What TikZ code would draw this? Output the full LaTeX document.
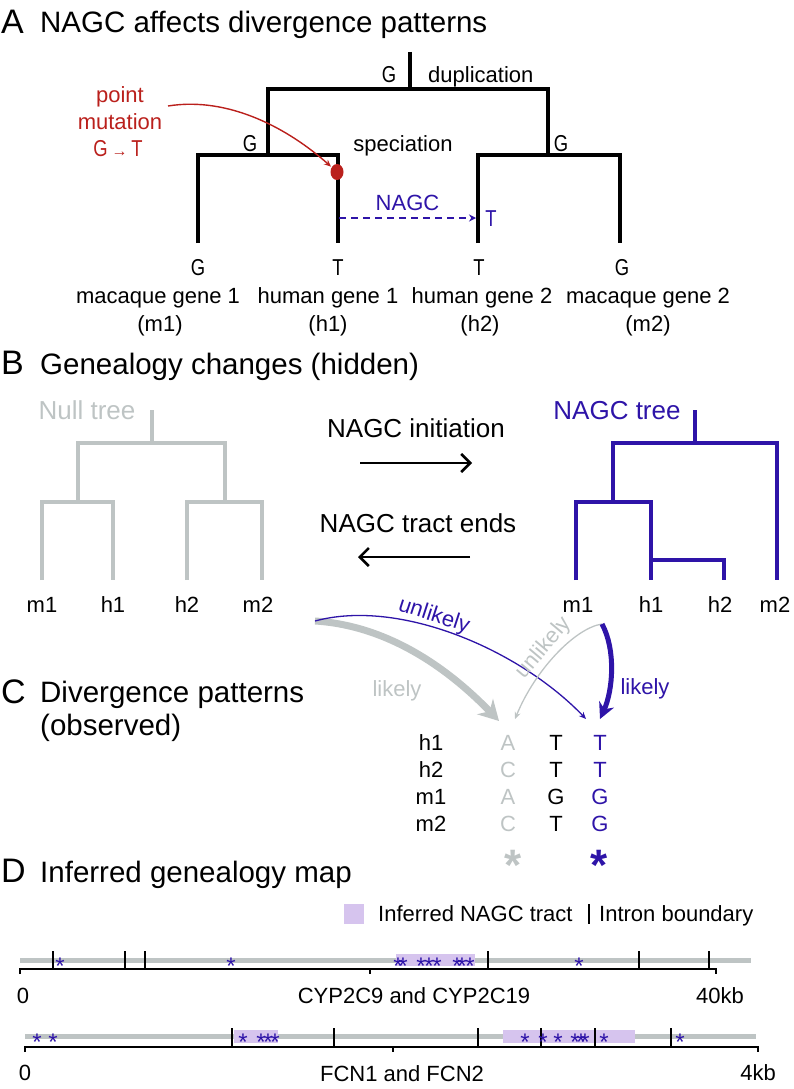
\documentclass[tikz,border=0pt]{standalone}
\usepackage{fontspec}
\setmainfont{Liberation Sans}
\newfontfamily\basefont[FakeStretch=0.8]{Liberation Sans}
\usetikzlibrary{arrows.meta,positioning}
\definecolor{nagcblue}{RGB}{46,20,168}
\definecolor{nullgray}{RGB}{190,196,196}
\definecolor{mutred}{RGB}{186,32,28}
\definecolor{tractlilac}{RGB}{214,196,238}
\tikzset{>={Stealth[length=7pt,width=6pt]},x=1pt,y=-1pt}
\tikzset{
  branch/.style={line width=4pt},
  lbl/.style={font=\fontsize{22}{24}\selectfont,inner sep=0pt},
  bigl/.style={font=\fontsize{26}{28}\selectfont,inner sep=0pt},
  heading/.style={font=\fontsize{29.5}{33}\selectfont,anchor=base west,inner sep=0pt},
  panelletter/.style={font=\fontsize{34}{36}\selectfont,anchor=base west,inner sep=0pt},
  nucl/.style={font=\basefont\fontsize{23}{24}\selectfont,anchor=base,inner sep=0pt},
  snp/.style={text=nagcblue,font=\fontsize{24}{24}\selectfont,anchor=base,inner sep=0pt},
  bigsnp/.style={font=\bfseries\fontsize{44}{44}\selectfont,anchor=base,inner sep=0pt},
  flip/.style={line width=2.5pt,-{Straight Barb[length=9pt,width=18pt]}},
  mutarrow/.style={mutred,line width=1.4pt,->,shorten >=8pt},
  gcarrow/.style={nagcblue,line width=2.2pt,dash pattern=on 7pt off 5pt,-{Stealth[length=7pt,width=7pt]}},
  likelygray/.style={nullgray,line width=7pt,-{Stealth[length=20pt,width=22pt]}},
  likelyblue/.style={nagcblue,line width=5pt,-{Stealth[length=16pt,width=16pt]}},
  unlikelygray/.style={nullgray,line width=1.3pt,->},
  unlikelyblue/.style={nagcblue,line width=1.3pt,->},
  intron/.style={line width=2.2pt},
  scaleline/.style={line width=2.2pt},
  genetrack/.style={nullgray,line width=5pt},
}

\begin{document}
\begin{tikzpicture}
\useasboundingbox (0,0) rectangle (793,1089);

\node[panelletter] (pA) at (1,34) {A};
\node[heading] (tA) at (40,33) {NAGC affects divergence patterns};
\coordinate (dup) at (410,52);
\coordinate (dupj) at (410,89);
\coordinate (spL) at (268,155);
\coordinate (spR) at (548,155);
\coordinate (m1a) at (198,243);
\coordinate (h1a) at (338,243);
\coordinate (h2a) at (478,243);
\coordinate (m2a) at (620,243);
\draw[branch] (dup) -- (dupj);
\draw[branch] (spL) |- (dupj) -| (spR);
\draw[branch] (m1a) |- (spL) -| (h1a);
\draw[branch] (h2a) |- (spR) -| (m2a);
\node[nucl] (gdup) at (389,83) {G};
\node[lbl,anchor=base west] (dupl) at (428,83) {duplication};
\node[nucl] (gspL) at (250,151) {G};
\node[lbl,anchor=base] (spec) at (403,151) {speciation};
\node[nucl] (gspR) at (561,151) {G};
\node[lbl,text=mutred,anchor=base] (pm1) at (120,103) {point};
\node[lbl,text=mutred,anchor=base] (pm2) at (120,130) {mutation};
\node[nucl,text=mutred] (pm3) at (118,156) {G\,{\normalfont\bfseries\fontsize{16}{16}\selectfont →}\,T};
\fill[mutred] (337,172) ellipse [x radius=6.5, y radius=8];
\coordinate (mut) at (337,172);
\coordinate (mutfrom) at (168,106);
\draw[mutarrow] (mutfrom) .. controls (230,96) and (290,130) .. (mut);
\coordinate (gcfrom) at (339,218);
\coordinate (gcto) at (476,218);
\draw[gcarrow] (gcfrom) -- node[lbl,text=nagcblue,above=6pt] (gclab) {NAGC} (gcto);
\node[nucl,text=nagcblue] (gcT) at (491,226) {T};
\node[nucl] (bm1) at (198,275) {G};
\node[nucl] (bh1) at (338,275) {T};
\node[nucl] (bh2) at (479,275) {T};
\node[nucl] (bm2) at (622,275) {G};
\node[lbl,anchor=base] (gm1) at (158,303) {macaque gene 1};
\node[lbl,anchor=base] (gh1) at (328,303) {human gene 1};
\node[lbl,anchor=base] (gh2) at (482,303) {human gene 2};
\node[lbl,anchor=base] (gm2) at (648,303) {macaque gene 2};
\node[lbl,anchor=base] (im1) at (160,331) {(m1)};
\node[lbl,anchor=base] (ih1) at (328,331) {(h1)};
\node[lbl,anchor=base] (ih2) at (480,331) {(h2)};
\node[lbl,anchor=base] (im2) at (648,331) {(m2)};

\node[panelletter] (pB) at (1,374) {B};
\node[heading] (tB) at (40,374) {Genealogy changes (hidden)};
\coordinate (nr) at (152,410);
\coordinate (nrj) at (152,443);
\coordinate (nL) at (78,502);
\coordinate (nR) at (225,502);
\coordinate (nm1) at (42,580);
\coordinate (nh1) at (113,580);
\coordinate (nh2) at (187,580);
\coordinate (nm2) at (262,580);
\draw[branch,nullgray] (nr) -- (nrj);
\draw[branch,nullgray] (nL) |- (nrj) -| (nR);
\draw[branch,nullgray] (nm1) |- (nL) -| (nh1);
\draw[branch,nullgray] (nh2) |- (nR) -| (nm2);
\node[bigl,text=nullgray,anchor=base] (nulllab) at (87,419) {Null tree};
\coordinate (gr) at (695,410);
\coordinate (grj) at (695,443);
\coordinate (gL) at (613,502);
\coordinate (gm1) at (576,580);
\coordinate (gh1) at (651,580);
\coordinate (gh1j) at (651,560);
\coordinate (gh2) at (724,580);
\coordinate (gm2) at (777,580);
\draw[branch,nagcblue] (gr) -- (grj);
\draw[branch,nagcblue] (gL) |- (grj) -| (gm2);
\draw[branch,nagcblue] (gm1) |- (gL) -| (gh1);
\draw[branch,nagcblue] (gh1j) -| (gh2);
\node[bigl,text=nagcblue,anchor=base] (gclab2) at (617,419) {NAGC tree};
\node[lbl,anchor=base] (lnm1) at (42,612) {m1};
\node[lbl,anchor=base] (lnh1) at (113,612) {h1};
\node[lbl,anchor=base] (lnh2) at (187,612) {h2};
\node[lbl,anchor=base] (lnm2) at (258,612) {m2};
\node[lbl,anchor=base] (lgm1) at (578,612) {m1};
\node[lbl,anchor=base] (lgh1) at (651,612) {h1};
\node[lbl,anchor=base] (lgh2) at (720,612) {h2};
\node[lbl,anchor=base] (lgm2) at (775,612) {m2};
\node[bigl,anchor=base] (init) at (416,437) {NAGC initiation};
\coordinate (initfrom) at (360,463);
\coordinate (initto) at (472,463);
\draw[flip] (initfrom) -- (initto);
\node[bigl,anchor=base] (ends) at (418,532) {NAGC tract ends};
\coordinate (endsfrom) at (470,557);
\coordinate (endsto) at (358,557);
\draw[flip] (endsfrom) -- (endsto);

\node[panelletter] (pC) at (1,703) {C};
\node[heading] (tC) at (40,702) {Divergence patterns};
\node[heading] (tC2) at (40,735) {(observed)};
\foreach \lab/\a/\b/\c [count=\i] in {h1/A/T/T, h2/C/T/T, m1/A/G/G, m2/C/T/G} {
  \node[lbl,anchor=base] (r\i) at (431,{723+27*\i}) {\lab};
  \node[lbl,anchor=base,text=nullgray] (a\i) at (508,{723+27*\i}) {\a};
  \node[lbl,anchor=base] (b\i) at (556,{723+27*\i}) {\b};
  \node[lbl,anchor=base,text=nagcblue] (c\i) at (600,{723+27*\i}) {\c};
}
\node[bigsnp,text=nullgray] (snull) at (513,880) {*};
\node[bigsnp,text=nagcblue] (sgc) at (599,880) {*};
\coordinate (nullsrc) at (315,621);
\coordinate (gcsrc) at (602,624);
\coordinate (tipnull) at (499,721);
\coordinate (tipnullthin) at (515,719);
\coordinate (tipgcthin) at (586,719);
\coordinate (tipgc) at (600,719);
\draw[likelygray] (nullsrc) .. controls (380,625) and (440,660) .. (tipnull);
\draw[unlikelyblue] (nullsrc) .. controls (400,598) and (520,650) .. (tipgcthin);
\draw[unlikelygray] (gcsrc) .. controls (575,628) and (535,670) .. (tipnullthin);
\draw[likelyblue] (gcsrc) .. controls (616,650) and (613,690) .. (tipgc);
\node[lbl,text=nagcblue,rotate=-18] (ulb) at (434,616) {unlikely};
\node[lbl,text=nullgray,rotate=50] (ulg) at (544,648) {unlikely};
\node[lbl,text=nullgray,anchor=base] (lg) at (397,696) {likely};
\node[lbl,text=nagcblue,anchor=base] (lb) at (645,694) {likely};

\node[panelletter] (pD) at (1,882) {D};
\node[heading] (tD) at (40,882) {Inferred genealogy map};
\node[fill=tractlilac,minimum size=20pt,inner sep=0pt] (legbox) at (354,914) {};
\node[lbl,anchor=base west] (legtract) at (378,921) {Inferred NAGC tract};
\coordinate (legbarT) at (589,904);
\coordinate (legbarB) at (589,924);
\draw[intron] (legbarT) -- (legbarB);
\node[lbl,anchor=base west] (legintron) at (599,921) {Intron boundary};

\draw[genetrack] (20,960) -- (751,960);
\fill[tractlilac] (396,954) rectangle (475,966);
\foreach \x in {53,125,145,488,639,709} \draw[intron] (\x,951) -- (\x,969);
\draw[scaleline] (20,974) -- (20,969) -- (716,969) -- (716,974);
\draw[scaleline] (370,969) -- (370,974);
\foreach \x [count=\i] in {60,231,398,403,421,429,437,457,462,470,579} \node[snp] (sa\i) at (\x,974) {*};
\node[lbl,anchor=base] (za) at (23,1003) {0};
\node[lbl,anchor=base] (na) at (414,1003) {CYP2C9 and CYP2C19};
\node[lbl,anchor=base] (ea) at (720,1003) {40kb};

\draw[genetrack] (25,1036) -- (756,1036);
\fill[tractlilac] (234,1030) rectangle (278,1043);
\fill[tractlilac] (503,1030) rectangle (635,1043);
\foreach \x in {232,334,478,541,595,671} \draw[intron] (\x,1028) -- (\x,1047);
\draw[scaleline] (25,1052) -- (25,1047) -- (758,1047) -- (758,1052);
\draw[scaleline] (393,1047) -- (393,1052);
\foreach \x [count=\i] in {37,53,243,261,268,275,525,543,558,575,581,585,604,680} \node[snp] (sb\i) at (\x,1050) {*};
\node[lbl,anchor=base] (zb) at (25,1080) {0};
\node[lbl,anchor=base] (nb) at (402,1081) {FCN1 and FCN2};
\node[lbl,anchor=base] (eb) at (758,1080) {4kb};
\end{tikzpicture}
\end{document}
